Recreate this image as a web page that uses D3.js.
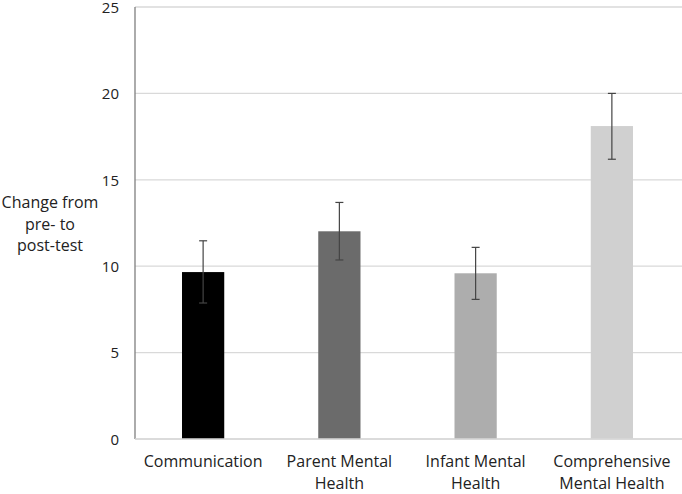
<!DOCTYPE html>
<html><head><meta charset="utf-8">
<script src="https://cdn.jsdelivr.net/npm/d3@7"></script>
<style>body{margin:0;background:#fff}text{font-family:"Open Sans","Noto Sans",sans-serif;fill:#222}</style>
</head><body><svg id="c" width="682" height="494"></svg>
<script>
const categories = [["Communication"], ["Parent Mental", "Health"], ["Infant Mental", "Health"], ["Comprehensive", "Mental Health"]];
const values = [9.66, 12.02, 9.59, 18.11];
const errLow = [7.87, 10.36, 8.08, 16.19];
const errHigh = [11.47, 13.69, 11.09, 20.0];
const colors = ["#000000", "#6b6b6b", "#adadad", "#d0d0d0"];
const yTicks = [0, 5, 10, 15, 20, 25];
const yLabel = ["Change from", "pre- to", "post-test"];

const svg = d3.select("#c");
const pLeft = 135, pRight = 680, pTop = 7, pBottom = 439;
const x = d3.scaleBand().domain(d3.range(categories.length)).range([pLeft, pRight]).paddingInner(0.69).paddingOuter(0.345);
const y = d3.scaleLinear().domain([0, 25]).range([pBottom, pTop]);

// gridlines
svg.append("g").selectAll("line").data(yTicks).join("line")
  .attr("x1", pLeft).attr("x2", 682).attr("y1", d => y(d)).attr("y2", d => y(d))
  .attr("stroke", "#d9d9d9").attr("stroke-width", 1.3);

// y axis
const yAxis = d3.axisLeft(y).tickValues(yTicks).tickSize(0).tickPadding(16);
const ga = svg.append("g").attr("transform", `translate(${pLeft},0)`).call(yAxis);
ga.select(".domain").remove();
ga.selectAll("text").style("font-size", "15px").style("font-family", "'Open Sans', sans-serif").attr("fill", "#222").attr("dy", "0.35em");
svg.append("line").attr("x1", pLeft).attr("x2", pLeft).attr("y1", pTop).attr("y2", pBottom)
  .attr("stroke", "#7f7f7f").attr("stroke-width", 1.3);

// bars
svg.append("g").selectAll("rect").data(values).join("rect")
  .attr("x", (d, i) => x(i)).attr("width", x.bandwidth())
  .attr("y", d => y(d)).attr("height", d => y(0) - y(d))
  .attr("fill", (d, i) => colors[i]);

// error bars
const eg = svg.append("g").attr("stroke", "#444").attr("stroke-width", 1.2);
values.forEach((v, i) => {
  const cx = x(i) + x.bandwidth() / 2;
  eg.append("line").attr("x1", cx).attr("x2", cx).attr("y1", y(errLow[i])).attr("y2", y(errHigh[i]));
  eg.append("line").attr("x1", cx - 4).attr("x2", cx + 4).attr("y1", y(errLow[i])).attr("y2", y(errLow[i]));
  eg.append("line").attr("x1", cx - 4).attr("x2", cx + 4).attr("y1", y(errHigh[i])).attr("y2", y(errHigh[i]));
});

// baseline
svg.append("line").attr("x1", pLeft).attr("x2", 682).attr("y1", y(0)).attr("y2", y(0))
  .attr("stroke", "#d9d9d9").attr("stroke-width", 1.3);

// x labels
categories.forEach((lines, i) => {
  const cx = x(i) + x.bandwidth() / 2;
  const t = svg.append("text").attr("text-anchor", "middle").style("font-size", "16px");
  lines.forEach((l, j) => t.append("tspan").attr("x", cx).attr("y", 467 + j * 21.5).text(l));
});

// y label
const yl = svg.append("text").attr("text-anchor", "middle").style("font-size", "16px");
yLabel.forEach((l, j) => yl.append("tspan").attr("x", 50).attr("y", 208 + j * 21.5).text(l));
</script></body></html>
